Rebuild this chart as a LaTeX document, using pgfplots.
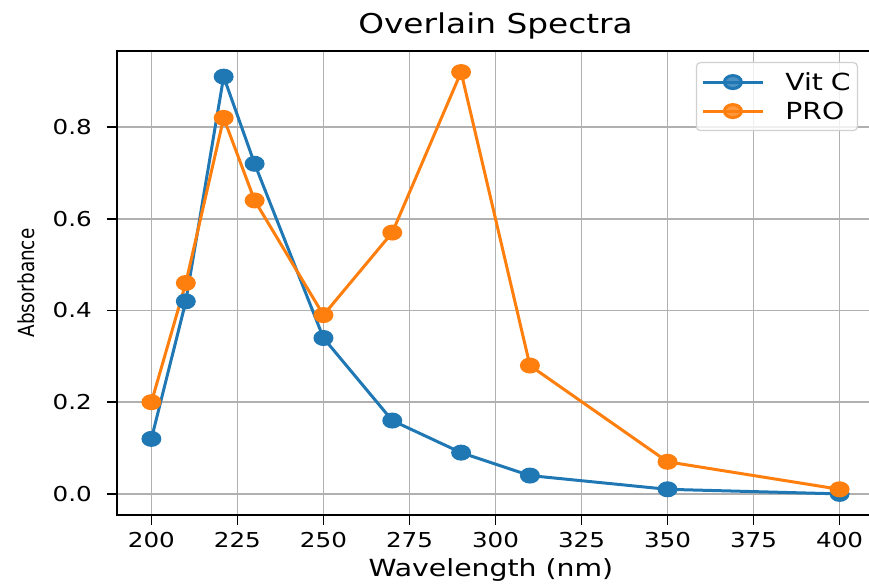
\documentclass[border=0pt]{standalone}
\usepackage{pgfplots}
\pgfplotsset{compat=1.18}
\usepackage{fontspec}
\setmainfont{DejaVu Sans}
\newfontfamily\wide{DejaVu Sans}[FakeStretch=1.2]
\definecolor{tabblue}{HTML}{1F77B4}
\definecolor{taborange}{HTML}{FF7F0E}
\definecolor{gridgray}{HTML}{B0B0B0}
\begin{document}
\begin{tikzpicture}[trim left=-117pt, trim right=752pt]
\begin{axis}[
  width=757pt, height=464pt, scale only axis,
  xmin=190, xmax=410, ymin=-0.046, ymax=0.966,
  xtick={200,225,250,275,300,325,350,375,400},
  ytick={0,0.2,0.4,0.6,0.8},
  yticklabel style={/pgf/number format/fixed, /pgf/number format/fixed zerofill, /pgf/number format/precision=1},
  /pgf/number format/assume math mode=true,
  grid=major,
  grid style={color=gridgray, line width=1.6pt},
  tick align=outside, tick pos=left,
  major tick length=10pt,
  tick style={black, line width=1.6pt},
  axis line style={line width=1.6pt},
  tick label style={font=\wide\fontsize{20.5}{24}\selectfont, inner sep=0pt},
  xticklabel style={anchor=north, yshift=-7pt},
  yticklabel style={anchor=east, xshift=-15pt},
  title={Overlain Spectra},
  title style={font=\wide\fontsize{27.3}{31}\selectfont, at={(rel axis cs:0.5,1.0237)}, anchor=base, xshift=0pt, yshift=0pt, inner sep=0pt, text height=34pt},
  xlabel={Wavelength (nm)},
  xlabel style={font=\wide\fontsize{23.6}{27}\selectfont, at={(rel axis cs:0.494,-0.1336)}, anchor=base, xshift=0pt, yshift=0pt, inner sep=0pt, text depth=7pt},
  ylabel={\scalebox{1}[1.2]{Absorbance}},
  ylabel style={font=\fontsize{18.4}{22}\selectfont, at={(rel axis cs:-0.1202,0.5)}, anchor=center, xshift=0pt, yshift=0pt, inner sep=0pt},
  legend style={at={(rel axis cs:1,1)}, anchor=north east, xshift=-16pt, yshift=-11pt,
    draw=gridgray!60, line width=1.2pt, rounded corners=4pt, fill=white, fill opacity=0.8, text opacity=1,
    font=\wide\fontsize{23.5}{27}\selectfont, inner xsep=5pt, inner ysep=11pt,
    column sep=21pt, row sep=12pt,
    nodes={inner xsep=0pt, inner ysep=0pt, text height=17pt, text depth=0pt, text width=67pt, align=left}},
  legend cell align=left,
  legend image code/.code={\draw[#1, mark=none] (0pt,0pt) -- (60pt,0pt); \fill[#1, mark=none] (30pt,0pt) ellipse [x radius=8.5pt, y radius=6.5pt];},
]
\addplot[color=tabblue, line width=3pt, mark=*, mark size=6.5pt, mark options={solid, xscale=1.3, fill=tabblue, draw=tabblue}]
coordinates {(200,0.12) (210,0.42) (221,0.91) (230,0.72) (250,0.34) (270,0.16) (290,0.09) (310,0.04) (350,0.01) (400,0.0)};
\addlegendentry{Vit C}
\addplot[color=taborange, line width=3pt, mark=*, mark size=6.5pt, mark options={solid, xscale=1.3, fill=taborange, draw=taborange}]
coordinates {(200,0.20) (210,0.46) (221,0.82) (230,0.64) (250,0.39) (270,0.57) (290,0.92) (310,0.28) (350,0.07) (400,0.01)};
\addlegendentry{PRO}
\end{axis}
\end{tikzpicture}
\end{document}
